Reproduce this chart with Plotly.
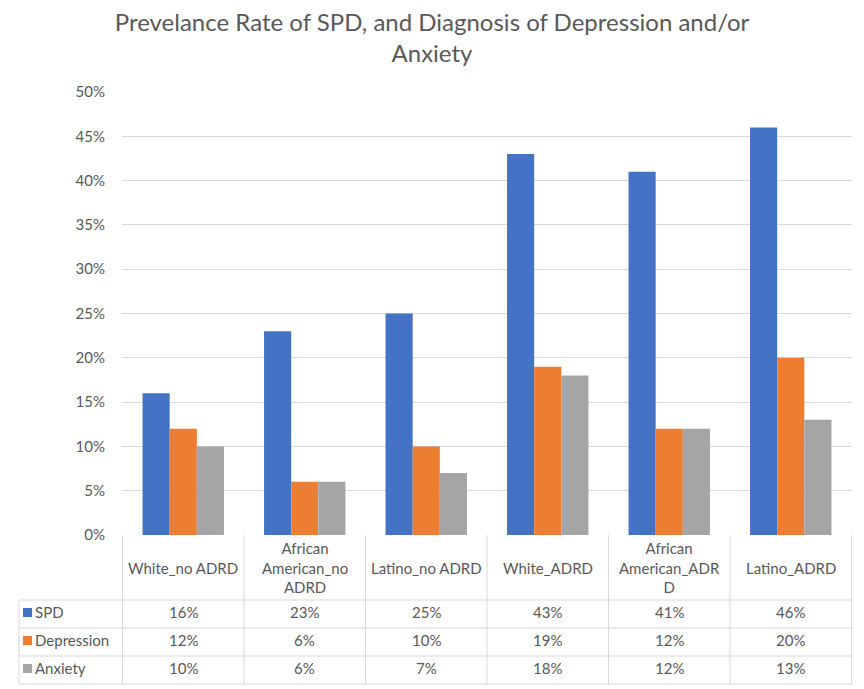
import plotly.graph_objects as go

# ---------------- data ----------------
categories = ["White_no ADRD", "African American_no ADRD", "Latino_no ADRD",
              "White_ADRD", "African American_ADRD", "Latino_ADRD"]
header_labels = ["White_no ADRD", "African<br>American_no<br>ADRD", "Latino_no ADRD",
                 "White_ADRD", "African<br>American_ADR<br>D", "Latino_ADRD"]
series_names = ["SPD", "Depression", "Anxiety"]
spd = [16, 23, 25, 43, 41, 46]
depression = [12, 6, 10, 19, 12, 20]
anxiety = [10, 6, 7, 18, 12, 13]
series_values = [spd, depression, anxiety]
series_colors = ["#4472C4", "#ED7D31", "#A5A5A5"]
y_ticks = [0, 5, 10, 15, 20, 25, 30, 35, 40, 45, 50]
y_tick_labels = ["0%", "5%", "10%", "15%", "20%", "25%", "30%", "35%", "40%", "45%", "50%"]

TEXT = "#595959"
GRID = "#D9D9D9"
FONT = "Lato, Liberation Sans, sans-serif"

W, H = 864, 689
L, R, T, B = 122, 12, 92, 154
plot_w = W - L - R
plot_h = H - T - B


def py(px):  # page pixel y -> paper y
    return (H - B - px) / plot_h


def pxx(px):  # page pixel x -> paper x
    return (px - L) / plot_w


fig = go.Figure()
for name, vals, col in zip(series_names, series_values, series_colors):
    fig.add_trace(go.Bar(x=categories, y=vals, name=name, marker=dict(color=col, line=dict(width=0)),
                         showlegend=False))

shapes = []
annotations = []

# table geometry (pixels)
header_top, header_bot = 535, 600
row_lines = [600, 628, 656, 684]
left_edge, right_edge = 19, 853

n = len(categories)
for i in range(n + 1):
    shapes.append(dict(type="line", xref="x", yref="paper", x0=i - 0.5, x1=i - 0.5,
                       y0=py(header_top), y1=py(row_lines[-1]),
                       line=dict(color=GRID, width=1)))
shapes.append(dict(type="line", xref="paper", yref="paper", x0=pxx(left_edge), x1=pxx(left_edge),
                   y0=py(row_lines[0]), y1=py(row_lines[-1]), line=dict(color=GRID, width=1)))
for ry in row_lines:
    shapes.append(dict(type="line", xref="paper", yref="paper", x0=pxx(left_edge), x1=pxx(right_edge),
                       y0=py(ry), y1=py(ry), line=dict(color=GRID, width=1)))

for i, lab in enumerate(header_labels):
    annotations.append(dict(x=i, y=py((header_top + header_bot) / 2), xref="x", yref="paper",
                            text=lab, showarrow=False, xanchor="center", yanchor="middle",
                            font=dict(family=FONT, size=15, color=TEXT)))

for r, (name, vals, col) in enumerate(zip(series_names, series_values, series_colors)):
    cy = (row_lines[r] + row_lines[r + 1]) / 2 - 2
    shapes.append(dict(type="rect", xref="paper", yref="paper", x0=pxx(23), x1=pxx(32),
                       y0=py(cy - 4), y1=py(cy + 5), fillcolor=col, line=dict(width=0)))
    annotations.append(dict(x=pxx(33), y=py(cy), xref="paper", yref="paper", text=name,
                            showarrow=False, xanchor="left", yanchor="middle",
                            font=dict(family=FONT, size=15, color=TEXT)))
    for i, v in enumerate(vals):
        annotations.append(dict(x=i, y=py(cy), xref="x", yref="paper", text=f"{v}%",
                                showarrow=False, xanchor="center", yanchor="middle",
                                font=dict(family=FONT, size=15, color=TEXT)))

fig.update_layout(
    width=W, height=H,
    margin=dict(l=L, r=R, t=T, b=B),
    paper_bgcolor="white", plot_bgcolor="white",
    barmode="group", bargap=0.33, bargroupgap=0,
    title=dict(text="Prevelance Rate of SPD, and Diagnosis of Depression and/or<br>Anxiety",
               x=0.5, xref="container", xanchor="center", y=0.955, yref="container", yanchor="top",
               font=dict(family=FONT, size=24, color=TEXT)),
    xaxis=dict(showticklabels=False, showgrid=False, zeroline=False, showline=False, ticks=""),
    yaxis=dict(range=[0, 50], tickvals=y_ticks, ticktext=y_tick_labels, showgrid=True, gridcolor=GRID,
               gridwidth=1, zeroline=False, showline=False, ticks="", ticklabelstandoff=16,
               tickfont=dict(family=FONT, size=15, color=TEXT)),
    shapes=shapes, annotations=annotations,
)

fig.write_html("out.html", config={"displayModeBar": False},
               post_script="document.body.style.margin='0';document.body.style.padding='0';")
